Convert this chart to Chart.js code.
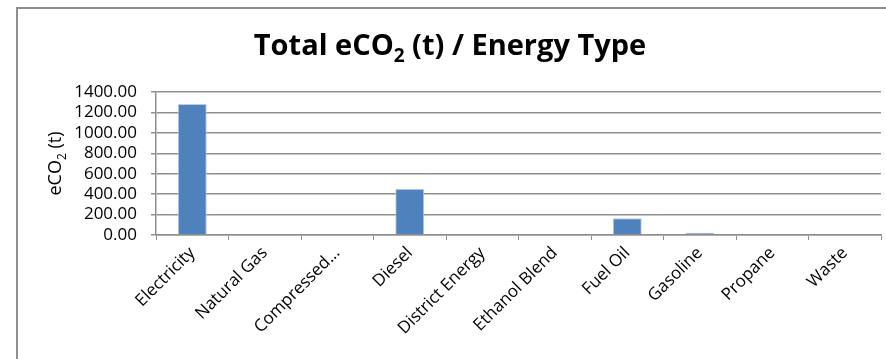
<!DOCTYPE html>
<html>
<head>
<meta charset="utf-8">
<script src="https://cdn.jsdelivr.net/npm/chart.js@4/dist/chart.umd.min.js"></script>
<style>
  html, body { margin: 0; padding: 0; background: #ffffff; }
  #wrap { position: relative; width: 886px; height: 359px; }
</style>
</head>
<body>
<div id="wrap"><canvas id="chart" width="886" height="359"></canvas></div>
<script>
// Energy types and their total emissions (tonnes eCO2)
const categories = ['Electricity', 'Natural Gas', 'Compressed...', 'Diesel', 'District Energy',
                    'Ethanol Blend', 'Fuel Oil', 'Gasoline', 'Propane', 'Waste'];
const emissions = [1282, 0, 0, 452, 0, 0, 164, 23, 0, 0];
const yTicks = [0, 200, 400, 600, 800, 1000, 1200, 1400];

const FONT = '"Open Sans", Lato, sans-serif';
const GRID = '#8f8f8f';

// Draws a string where "2" after "eCO" is a subscript
function drawSubText(ctx, parts, x, y, size, weight, align) {
  const mainFont = weight + ' ' + size + 'px ' + FONT;
  const subFont = weight + ' ' + Math.round(size * 0.65) + 'px ' + FONT;
  let total = 0;
  parts.forEach(p => { ctx.font = p.sub ? subFont : mainFont; total += ctx.measureText(p.t).width; });
  let cx = align === 'center' ? x - total / 2 : x;
  ctx.textBaseline = 'alphabetic';
  ctx.textAlign = 'left';
  parts.forEach(p => {
    ctx.font = p.sub ? subFont : mainFont;
    ctx.fillText(p.t, cx, p.sub ? y + size * 0.25 : y);
    cx += ctx.measureText(p.t).width;
  });
}

const decor = {
  id: 'decor',
  afterDraw(chart) {
    const ctx = chart.ctx;
    const area = chart.chartArea;
    ctx.save();
    // outer frame
    ctx.strokeStyle = '#8e8e8e';
    ctx.lineWidth = 2;
    ctx.beginPath();
    ctx.moveTo(17, 400);
    ctx.lineTo(17, 8);
    ctx.lineTo(900, 8);
    ctx.stroke();
    // title
    ctx.fillStyle = '#000000';
    drawSubText(ctx, [{t: 'Total eCO'}, {t: '2', sub: true}, {t: ' (t) / Energy Type'}],
                450, 55, 29, 'bold', 'center');
    // y-axis title, rotated
    ctx.translate(61, (area.top + area.bottom) / 2);
    ctx.rotate(-Math.PI / 2);
    drawSubText(ctx, [{t: 'eCO'}, {t: '2', sub: true}, {t: ' (t)'}], 0, 0, 18, 'normal', 'center');
    ctx.restore();
  }
};

new Chart(document.getElementById('chart'), {
  type: 'bar',
  data: {
    labels: categories,
    datasets: [{
      data: emissions,
      backgroundColor: '#4F81BD',
      borderColor: '#B9CDE5',
      borderWidth: 1,
      barPercentage: 0.4,
      categoryPercentage: 1.0
    }]
  },
  options: {
    responsive: false,
    animation: false,
    events: [],
    layout: { padding: { left: 0, right: 5, top: 92, bottom: 0 } },
    plugins: { legend: { display: false }, title: { display: false }, tooltip: { enabled: false } },
    scales: {
      x: {
        offset: true,
        grid: { display: true, drawOnChartArea: false, drawTicks: true, tickLength: 5, color: GRID, offset: true },
        border: { display: true, color: GRID, width: 1.5 },
        ticks: {
          autoSkip: false, minRotation: 45, maxRotation: 45, padding: 3,
          color: '#000000', font: { family: FONT, size: 17 }
        },
        afterFit(scale) { scale.height = 124; }
      },
      y: {
        min: 0, max: 1400,
        afterBuildTicks(scale) { scale.ticks = yTicks.map(v => ({ value: v })); },
        grid: { display: true, drawOnChartArea: true, drawTicks: true, tickLength: 5, color: GRID, lineWidth: 1.5 },
        border: { display: true, color: GRID, width: 1.5 },
        ticks: {
          autoSkip: false, padding: 14, color: '#000000',
          font: { family: FONT, size: 17 },
          callback: v => Number(v).toFixed(2)
        },
        afterFit(scale) { scale.width = 156; }
      }
    }
  },
  plugins: [decor]
});
</script>
</body>
</html>
